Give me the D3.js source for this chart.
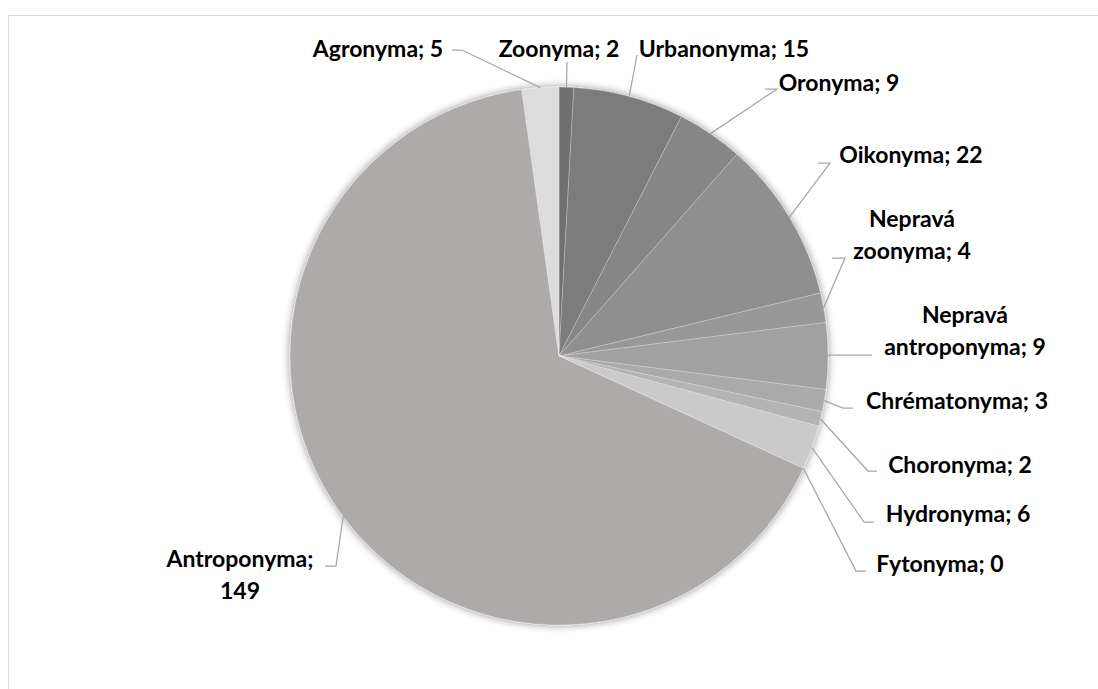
<!DOCTYPE html>
<html>
<head>
<meta charset="utf-8">
<script src="https://cdn.jsdelivr.net/npm/d3@7"></script>
<style>
  html, body { margin: 0; padding: 0; background: #fff; }
  svg { display: block; }
  .lbl { font-family: Lato, "Open Sans", sans-serif; font-weight: 700; font-size: 23px; fill: #000; }
</style>
</head>
<body>
<svg id="chart" width="1098" height="689"></svg>
<script>
// Categories in clockwise order starting at 12 o'clock
const categories = [
  "Zoonyma", "Urbanonyma", "Oronyma", "Oikonyma", "Nepravá zoonyma",
  "Nepravá antroponyma", "Chrématonyma", "Choronyma", "Hydronyma",
  "Fytonyma", "Antroponyma", "Agronyma"
];
const values = [2, 15, 9, 22, 4, 9, 3, 2, 6, 0, 149, 5];
const sliceColors = [
  "#6f6f6f", "#7b7b7b", "#868686", "#8f8f8f", "#989898",
  "#a1a1a1", "#aaaaaa", "#b4b4b4", "#cacaca",
  "#d0d0d0", "#aeaaaa", "#dcdcdc"
];
// Label text lines (name; value, split where the label wraps)
const labelLines = [
  ["Zoonyma; 2"], ["Urbanonyma; 15"], ["Oronyma; 9"], ["Oikonyma; 22"],
  ["Nepravá", "zoonyma; 4"], ["Nepravá", "antroponyma; 9"], ["Chrématonyma; 3"],
  ["Choronyma; 2"], ["Hydronyma; 6"], ["Fytonyma; 0"], ["Antroponyma;", "149"], ["Agronyma; 5"]
];

// Label layout: cx = horizontal centre of the text block, by = baseline of the last line,
// leader elbow (ex, ey) and end of the short horizontal leader segment (hx)
const labelLayout = [
  { cx: 559, by: 57, ex: 567, ey: 62, hx: 567 },
  { cx: 724, by: 57, ex: 637, ey: 55, hx: 637 },
  { cx: 839, by: 91, ex: 777, ey: 89, hx: 765 },
  { cx: 911, by: 163, ex: 830, ey: 163, hx: 818 },
  { cx: 912, by: 259, ex: 845, ey: 258, hx: 832 },
  { cx: 965, by: 355, ex: 829, ey: 355, hx: 872 },
  { cx: 957, by: 409, ex: 843, ey: 408, hx: 853 },
  { cx: 960, by: 473, ex: 868, ey: 471, hx: 877 },
  { cx: 958, by: 522, ex: 864, ey: 522, hx: 874 },
  { cx: 940, by: 572, ex: 856, ey: 571, hx: 866 },
  { cx: 240, by: 599, ex: 336, ey: 566, hx: 325 },
  { cx: 378, by: 57, ex: 462, ey: 50, hx: 452 }
];
const lineHeight = 32;

const svg = d3.select("#chart");
const W = 1098, H = 689;
const cx = 559, cy = 356, R = 269;

// Chart area frame
svg.append("rect")
  .attr("x", 8.5).attr("y", 15.5)
  .attr("width", W + 20).attr("height", H + 20)
  .attr("fill", "#fff").attr("stroke", "#d9d9d9").attr("stroke-width", 1);

// Soft outer shadow around the pie
const defs = svg.append("defs");
const f = defs.append("filter").attr("id", "pieShadow")
  .attr("x", "-20%").attr("y", "-20%").attr("width", "140%").attr("height", "140%");
f.append("feGaussianBlur").attr("in", "SourceAlpha").attr("stdDeviation", 4).attr("result", "b");
f.append("feComponentTransfer").attr("in", "b").attr("result", "s")
  .append("feFuncA").attr("type", "linear").attr("slope", 0.45);
const fm = f.append("feMerge");
fm.append("feMergeNode").attr("in", "s");
fm.append("feMergeNode").attr("in", "SourceGraphic");

const data = categories.map((c, i) => ({ name: c, value: values[i], i }));

const pie = d3.pie().value(d => d.value).sort(null);
const arcs = pie(data);
const arc = d3.arc().innerRadius(0).outerRadius(R);

const g = svg.append("g").attr("transform", `translate(${cx},${cy})`);
g.append("g").attr("filter", "url(#pieShadow)")
  .selectAll("path")
  .data(arcs)
  .join("path")
  .attr("d", arc)
  .attr("fill", d => sliceColors[d.data.i])
  .attr("stroke", "rgba(255,255,255,0.35)")
  .attr("stroke-width", 0.75);

// Leader lines from the slice mid-angle on the rim to each label
const leaders = svg.append("g");
arcs.forEach(a => {
  const L = labelLayout[a.data.i];
  const mid = (a.startAngle + a.endAngle) / 2;
  const px = cx + R * Math.sin(mid);
  const py = cy - R * Math.cos(mid);
  const pts = [[px, py], [L.ex, L.ey], [L.hx, L.ey]];
  leaders.append("path")
    .attr("d", d3.line()(pts))
    .attr("fill", "none")
    .attr("stroke", "#a6a6a6")
    .attr("stroke-width", 1.25);
});

// Labels
const labels = svg.append("g");
arcs.forEach(a => {
  const L = labelLayout[a.data.i];
  const lines = labelLines[a.data.i];
  lines.forEach((t, k) => {
    labels.append("text")
      .attr("class", "lbl")
      .attr("x", L.cx)
      .attr("y", L.by - (lines.length - 1 - k) * lineHeight)
      .attr("text-anchor", "middle")
      .text(t);
  });
});
</script>
</body>
</html>
